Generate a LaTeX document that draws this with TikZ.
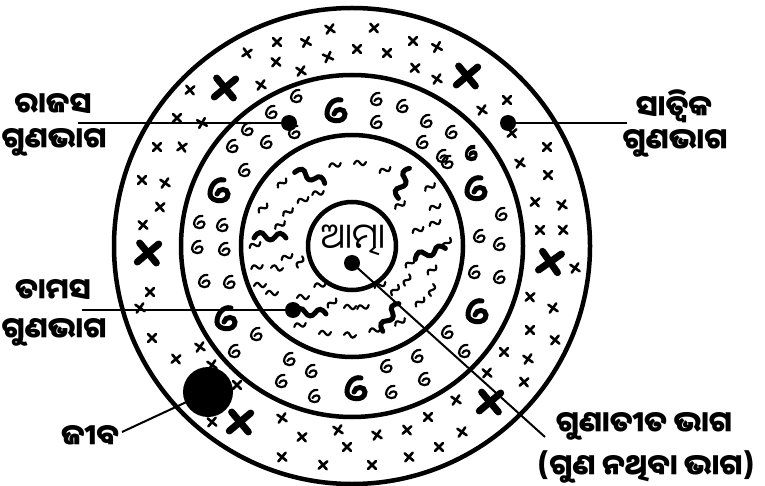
\documentclass[tikz,border=0pt]{standalone}
\usepackage{fontspec}
\newfontfamily\odia[Script=Oriya]{Noto Sans Oriya UI}
\tikzset{
  sx/.pic={\draw[line width=2.6pt,line cap=round] (-4,-4)--(4,4) (-4,4)--(4,-4);},
  bx/.pic={\draw[line width=7pt,line cap=round] (-14,0)--(14,0) (0,-13)--(0,13);},
  six/.pic={\draw[line width=2.2pt,line cap=round] (2.5,-7) .. controls (-2,-8) and (-6,-3.5) .. (-6,1) .. controls (-6,6) and (4.5,7) .. (4.5,1) .. controls (4.5,-2.5) and (-1,-2.5) .. (-2.5,1);},
  bigsix/.pic={\draw[line width=5pt,line cap=round] (4,-12) .. controls (-4,-14) and (-10,-6) .. (-10,2) .. controls (-10,10) and (8,12) .. (8,2) .. controls (8,-4) and (-2,-4) .. (-3,2);},
  sq/.pic={\draw[line width=2.2pt,line cap=round] (-6,1) .. controls (-4,-3) and (-2,-3) .. (0,0) .. controls (2,3) and (4,3) .. (6,-1);},
  bsq/.pic={\draw[line width=5pt,line cap=round] (-16,1) .. controls (-12,-6) and (-8,-6) .. (-5,-1) .. controls (-2,4) and (2,4) .. (5,0) .. controls (8,-5) and (12,-5) .. (16,1);},
  ringc/.style={circle,draw,line width=4.5pt,inner sep=0pt},
  lead/.style={line width=2pt},
  dotn/.style={circle,fill=black,inner sep=0pt,minimum size=16pt},
  lab/.style={font=\odia\bfseries\fontsize{29}{32}\selectfont,inner sep=0pt,align=center},
}
\begin{document}
\begin{tikzpicture}[x=1pt,y=-1pt]
\useasboundingbox (0,0) rectangle (765,486);
% rings
\node[ringc,minimum size=476pt] (outer) at (352,246) {};
\node[ringc,minimum size=342pt] (middle) at (352,246) {};
\node[ringc,minimum size=222pt] (inner) at (352,246) {};
\node[ringc,minimum size=88pt] (atman) at (352,246) {};
% outer ring small crosses
\foreach \x/\y/\r in {330/29/10,374/28/-5,277/42/0,306/42/15,247/53/-10,276/62/5,328/57/20,357/49/0,301/71/10,190/90/-5,261/85/10,177/118/0,202/123/15,157/147/0,182/147/-10,
413/41/0,437/47/15,387/53/0,415/68/-5,437/79/10,507/100/0,482/110/10,512/133/-5,547/147/0,
520/163/10,548/175/0,535/202/-5,562/205/10,540/230/0,563/230/5,575/268/10,530/297/-5,553/308/10,530/330/0,555/340/5,
504/352/0,528/359/10,524/382/-5,487/373/5,456/400/10,428/417/0,407/430/-5,462/432/10,439/447/0,409/457/5,
152/338/0,200/347/10,176/359/-5,212/365/10,237/385/0,212/422/5,282/418/10,302/437/-5,338/430/10,347/447/0,282/457/5,323/465/-5,372/465/0,377/435/10,
142/180/0,165/183/10,160/207/-5,143/225/5,150/292/0,140/308/10}
  \pic[rotate=\r] at (\x,\y) {sx};
% big crosses
\foreach \x/\y/\r in {225/88/40,467/76/40,148/253/40,550/262/35,240/422/40,490/402/40}
  \pic[rotate=\r] at (\x,\y) {bx};
% middle ring sixes
\foreach \x/\y/\r in {297/97/0,272/113/0,248/130/0,267/143/0,233/147/0,295/133/0,377/100/0,377/123/0,403/107/0,427/122/0,452/133/0,423/143/0,472/153/0,443/157/0,245/171/0,
200/223/0,223/226/0,198/248/0,225/250/0,205/282/0,230/283/0,257/335/0,
502/215/0,480/237/0,500/245/0,475/273/0,500/278/0,448/163/0,472/155/0,
448/333/0,465/352/0,418/357/0,425/380/0,387/367/0,392/393/0,
235/352/0,290/360/0,312/372/0,282/382/0,315/397/0}
  \pic[rotate=\r] at (\x,\y) {six};
\foreach \x/\y in {337/112,220/192,227/320,477/190,478/313,357/390}
  \pic at (\x,\y) {bigsix};
% inner ring squiggles
\foreach \x/\y/\r in {282/183/40,318/193/10,303/200/20,263/208/40,288/212/30,287/257/20,257/267/10,277/268/-10,272/293/0,303/297/0,332/303/40,350/307/0,363/307/10,300/262/60,
430/187/30,400/205/30,435/207/20,418/230/20,435/223/20,447/243/50,410/263/40,432/270/40,407/280/60,432/290/70,420/302/40,
335/165/10,360/163/0,385/170/20,300/325/10,325/333/0,350/335/-10,375/330/10,400/322/30,255/245/20,260/285/0,
280/225/30,395/290/50,320/285/10,380/285/20}
  \pic[rotate=\r] at (\x,\y) {sq};
\foreach \x/\y/\r in {310/177/-20,270/237/0,403/183/70,430/253/20,310/313/0,390/317/60}
  \pic[rotate=\r] at (\x,\y) {bsq};
% centre text
\node[font=\odia\fontsize{35}{38}\selectfont,inner sep=0pt] (atmatext) at (353,240) {ଆତ୍ମା};
% dots
\node[dotn] (rdot) at (289,123) {};
\node[dotn] (sdot) at (508,123) {};
\node[dotn] (tdot) at (293,310) {};
\node[dotn] (adot) at (352,263) {};
\node[circle,fill=black,inner sep=0pt,minimum size=50pt] (jiva) at (208,392) {};
% labels
\node[lab] (rl1) at (53,104) {ରାଜସ};
\node[lab] (rl2) at (54,142) {ଗୁଣଭାଗ};
\node[lab] (sl1) at (674,106) {ସାତ୍ୱିକ};
\node[lab] (sl2) at (675,143) {ଗୁଣଭାଗ};
\node[lab] (tl1) at (53,290) {ତାମସ};
\node[lab] (tl2) at (54,332) {ଗୁଣଭାଗ};
\node[lab] (jl) at (90,436) {ଜୀବ};
\node[lab] (gl1) at (644,426) {ଗୁଣାତୀତ ଭାଗ};
\node[lab] (gl2) at (646,467) {(ଗୁଣ ନଥିବା ଭାଗ)};
% leader lines
\coordinate (rend) at (78,123);
\coordinate (send) at (627,123);
\coordinate (tend) at (82,310);
\coordinate (jend) at (122,432);
\coordinate (gend) at (545,437);
\draw[lead] (rend) -- (rdot.center);
\draw[lead] (sdot.center) -- (send);
\draw[lead] (tend) -- (tdot.center);
\draw[lead] (jend) -- (jiva.center);
\draw[lead] (adot.center) -- (gend);
\end{tikzpicture}
\end{document}
